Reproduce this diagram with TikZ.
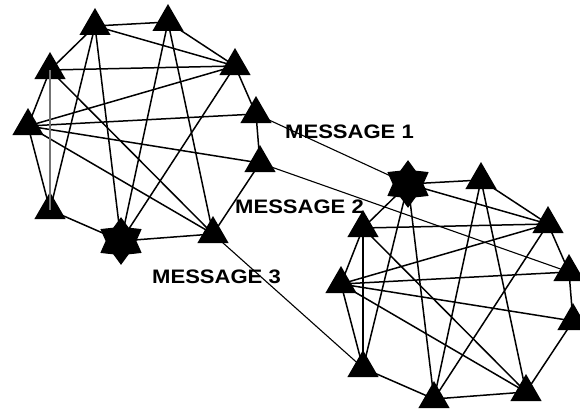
\documentclass[tikz,border=0pt]{standalone}
\usepackage{fontspec}
\setmainfont{Liberation Sans}
\usetikzlibrary{shapes.geometric}
\tikzset{
  tri/.style={regular polygon, regular polygon sides=3, fill=black, draw=none, inner sep=0pt, minimum size=36pt},
  hub/.style={star, star points=6, star point ratio=1.55, fill=black, draw=black, line width=1pt, inner sep=0pt, minimum size=46pt},
  link/.style={line width=1.5pt, black},
  faint/.style={line width=1.2pt, black!55},
  msg/.style={line width=1.1pt, black},
  lbl/.style={font=\fontsize{19.5}{19.5}\selectfont\bfseries, inner sep=0pt, anchor=west}
}
\newcommand\drawcluster[3]{%
  \begin{scope}[shift={#2}]
    \foreach \i/\px/\py in {1/95/26, 2/168/22, 3/50/70, 4/235/66, 5/256/114,
                            6/28/126, 7/260/163, 8/50/210, 9/121/241, 10/213/234}{
      \ifnum\i=#3\relax
        \node[hub] (#1\i) at (\px,\py) {};
      \else
        \node[tri] (#1\i) at (\px,\py) {};
      \fi
    }
  \end{scope}}
\begin{document}
\begin{tikzpicture}[x=1pt, y=-1pt]
  \useasboundingbox (0,0) rectangle (580,412);
  \drawcluster{L}{(0,0)}{9}
  \drawcluster{R}{(313,158)}{1}
  \foreach \p in {L,R}{
    \foreach \a/\b in {1/2, 2/4, 4/5, 5/7, 7/10, 10/9, 9/8, 8/6, 6/3, 3/1,
                       1/4, 1/9, 1/8, 2/9, 2/10, 3/4, 3/10, 6/4, 6/5, 6/7, 6/10, 9/4}{
      \draw[link] (\p\a.center) -- (\p\b.center);
    }
  }
  \draw[faint] (L3.center) -- (L8.center);
  \draw[link] (R3.center) -- (R8.center);
  \draw[msg] (L5.center) -- (R1.center);
  \draw[msg] (L7.center) -- (R5.center);
  \draw[msg] (L10.center) -- (R8.center);
  \node[lbl] (m1) at (285,132) {\scalebox{1.13}[1]{MESSAGE 1}};
  \node[lbl] (m2) at (235,207) {\scalebox{1.13}[1]{MESSAGE 2}};
  \node[lbl] (m3) at (152,277) {\scalebox{1.13}[1]{MESSAGE 3}};
\end{tikzpicture}
\end{document}
